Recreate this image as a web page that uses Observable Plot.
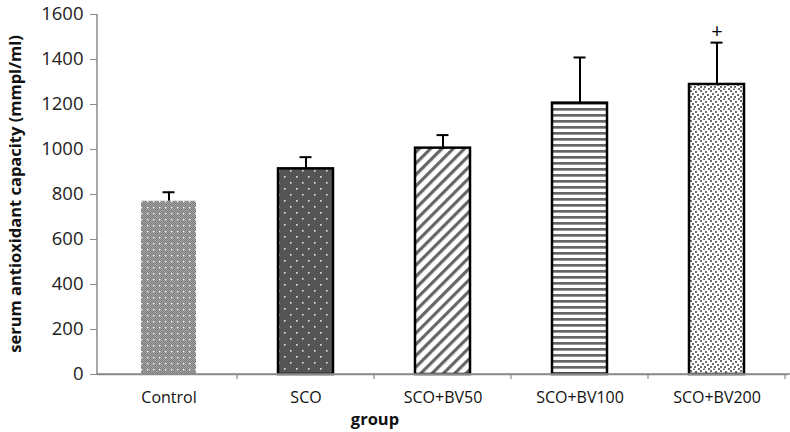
<!DOCTYPE html>
<html>
<head>
<meta charset="utf-8">
<script src="https://cdn.jsdelivr.net/npm/d3@7"></script>
<script src="https://cdn.jsdelivr.net/npm/@observablehq/plot@0.6"></script>
<style>
  html, body { margin: 0; padding: 0; background: #fff; }
  #chart svg { display: block; }
</style>
</head>
<body>
<div id="chart"></div>
<script>
const groups = ["Control", "SCO", "SCO+BV50", "SCO+BV100", "SCO+BV200"];
const means  = [770, 914, 1006, 1206, 1289];
const errors = [40, 52, 58, 203, 186];
const marks  = ["", "", "", "", "+"];
const yTicks = [0, 200, 400, 600, 800, 1000, 1200, 1400, 1600];

const patternIds = ["patControl", "patSCO", "patBV50", "patBV100", "patBV200"];
const data = groups.map((g, i) => ({group: g, mean: means[i], err: errors[i], top: means[i] + errors[i], mark: marks[i], pat: patternIds[i]}));

const font = "'Open Sans', 'Liberation Sans', sans-serif";

const plot = Plot.plot({
  width: 790,
  height: 432,
  marginLeft: 97,
  marginRight: 2,
  marginTop: 14,
  marginBottom: 58,
  style: {fontFamily: font, background: "#fff", overflow: "visible"},
  x: {domain: groups, paddingInner: 0.6, paddingOuter: 0.304, label: null},
  y: {domain: [0, 1600], label: null},
  marks: [
    Plot.ruleX(data, {x: "group", y1: "mean", y2: "top", stroke: "#000", strokeWidth: 2}),
    Plot.tickY(data, {x: "group", y: "top", stroke: "#000", strokeWidth: 2, insetLeft: 21.5, insetRight: 21.5}),
    Plot.barY(data, {x: "group", y: "mean", fill: d => `url(#${d.pat})`,
      stroke: d => d.group === "Control" ? "none" : "#000", strokeWidth: 2.5}),
    Plot.text(data, {x: "group", y: "top", text: "mark", dy: -11, fontSize: 20, fill: "#000"}),
    Plot.ruleY([0], {stroke: "#8a8a8a", strokeWidth: 1.5}),
    Plot.axisY({ticks: yTicks, tickFormat: d3.format("d"), tickSize: 7, tickPadding: 7, stroke: "#8a8a8a", fill: "#222", label: null}),
    Plot.axisX({tickSize: 0, tickPadding: 17, fill: "#111", label: null})
  ]
});

const svg = d3.select(plot);
svg.selectAll("[aria-label='y-axis tick label']").attr("font-size", 18.5).selectAll("text").attr("font-size", 18.5);
svg.selectAll("[aria-label='x-axis tick label']").attr("font-size", 16).selectAll("text").attr("font-size", 16);
svg.selectAll("[aria-label='text'] text").attr("font-size", 20);

const defs = svg.insert("defs", ":first-child");

// Control: fine gray checker texture
const p0 = defs.append("pattern").attr("id", "patControl").attr("patternUnits", "userSpaceOnUse").attr("width", 6).attr("height", 6);
p0.append("rect").attr("width", 6).attr("height", 6).attr("fill", "#a6a6a6");
[[0,0],[2,0],[4,0],[1,1],[3,1],[5,1],[0,2],[2,2],[4,2],[1,3],[5,3],[0,4],[2,4],[4,4],[1,5],[3,5],[5,5]].forEach(([a,b]) =>
  p0.append("rect").attr("x", a).attr("y", b).attr("width", 1).attr("height", 1).attr("fill", "#7a7a7a"));
p0.append("rect").attr("x", 3).attr("y", 3).attr("width", 1.4).attr("height", 1.4).attr("fill", "#f4f4f4");

// SCO: dark gray with white dots
const p1 = defs.append("pattern").attr("id", "patSCO").attr("patternUnits", "userSpaceOnUse").attr("width", 12).attr("height", 12);
p1.append("rect").attr("width", 12).attr("height", 12).attr("fill", "#555");
p1.append("rect").attr("x", 2).attr("y", 2).attr("width", 1.6).attr("height", 1.6).attr("fill", "#e8e8e8");
p1.append("rect").attr("x", 8).attr("y", 8).attr("width", 1.6).attr("height", 1.6).attr("fill", "#e8e8e8");

// BV50: diagonal stripes
const p2 = defs.append("pattern").attr("id", "patBV50").attr("patternUnits", "userSpaceOnUse").attr("width", 8).attr("height", 8).attr("patternTransform", "rotate(45)");
p2.append("rect").attr("width", 8).attr("height", 8).attr("fill", "#fff");
p2.append("rect").attr("x", 0).attr("width", 3.2).attr("height", 8).attr("fill", "#666");

// BV100: horizontal stripes
const p3 = defs.append("pattern").attr("id", "patBV100").attr("patternUnits", "userSpaceOnUse").attr("width", 8).attr("height", 6);
p3.append("rect").attr("width", 8).attr("height", 6).attr("fill", "#fff");
p3.append("rect").attr("y", 0).attr("width", 8).attr("height", 2.7).attr("fill", "#666");

// BV200: scattered small gray squares
const p4 = defs.append("pattern").attr("id", "patBV200").attr("patternUnits", "userSpaceOnUse").attr("width", 10).attr("height", 10);
p4.append("rect").attr("width", 10).attr("height", 10).attr("fill", "#fff");
[[0,0],[5,1],[2,3],[7,4],[0,6],[4,6],[8,8],[3,8.5]].forEach(([a,b]) =>
  p4.append("rect").attr("x", a).attr("y", b).attr("width", 2).attr("height", 2).attr("fill", "#6e6e6e"));

// axis lines and category separator ticks using the plot's scales
const xs = plot.scale("x"), ys = plot.scale("y");
const x0 = xs.range[0], yBottom = ys.range[0], yTop = ys.range[1];
svg.append("line").attr("x1", x0).attr("x2", x0).attr("y1", yTop).attr("y2", yBottom)
  .attr("stroke", "#8a8a8a").attr("stroke-width", 1.5);
svg.append("line").attr("x1", x0).attr("x2", 790).attr("y1", yBottom).attr("y2", yBottom)
  .attr("stroke", "#8a8a8a").attr("stroke-width", 1.5);
const step = xs.step;
groups.forEach((g) => {
  const bx = xs.apply(g) + xs.bandwidth + (step - xs.bandwidth) / 2;
  svg.append("line").attr("x1", bx).attr("x2", bx).attr("y1", yBottom).attr("y2", yBottom + 5)
    .attr("stroke", "#8a8a8a").attr("stroke-width", 1.2);
});

// axis titles
svg.append("text").text("group")
  .attr("x", 375).attr("y", 425)
  .attr("text-anchor", "middle").attr("font-weight", "bold").attr("font-size", 16.5)
  .attr("font-family", font).attr("fill", "#111");
svg.append("text").text("serum antioxidant capacity (mmpl/ml)")
  .attr("transform", `translate(21,${(yTop + yBottom) / 2}) rotate(-90)`)
  .attr("text-anchor", "middle").attr("font-weight", "bold").attr("font-size", 16.5)
  .attr("font-family", font).attr("fill", "#111");

document.getElementById("chart").appendChild(plot);
</script>
</body>
</html>
